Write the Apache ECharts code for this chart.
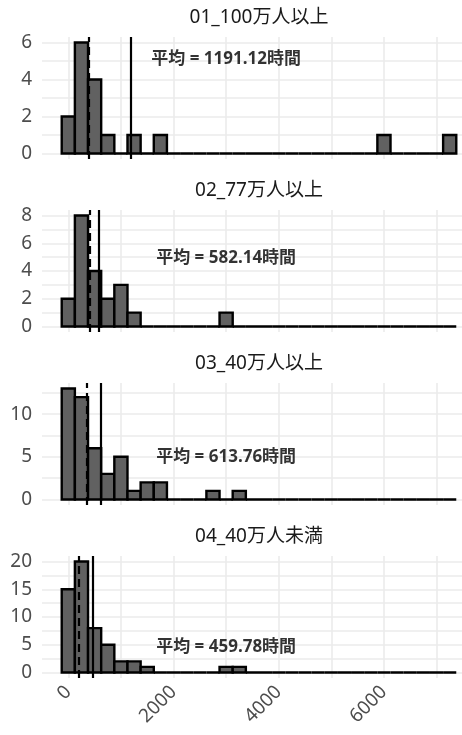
<!DOCTYPE html>
<html>
<head>
<meta charset="utf-8">
<title>histograms</title>
<script src="https://cdn.jsdelivr.net/npm/echarts@6/dist/echarts.min.js"></script>
<style>
  html, body { margin: 0; width: 100%; height: 100%; background: #fff; }
  #main { width: 462px; height: 735px; }
</style>
</head>
<body>
<div id="main"></div>
<script>
// panel names
var panels = ['01_100万人以上', '02_77万人以上', '03_40万人以上', '04_40万人未満'];

// histogram bins: 30 bins of width 250, first one centred on 0
var binStart = -125;
var binWidth = 250;

// counts per bin
var counts1 = [2,6,4,1,0,1,0,1,0,0, 0,0,0,0,0,0,0,0,0,0, 0,0,0,0,1,0,0,0,0,1];
var counts2 = [2,8,4,2,3,1,0,0,0,0, 0,0,1,0,0,0,0,0,0,0, 0,0,0,0,0,0,0,0,0,0];
var counts3 = [13,12,6,3,5,1,2,2,0,0, 0,1,0,1,0,0,0,0,0,0, 0,0,0,0,0,0,0,0,0,0];
var counts4 = [15,20,8,5,2,2,1,0,0,0, 0,0,1,1,0,0,0,0,0,0, 0,0,0,0,0,0,0,0,0,0];
var allCounts = [counts1, counts2, counts3, counts4];

var means = [1191.12, 582.14, 613.76, 459.78];
var medians = [390, 403, 345, 204];

// y axis range and ticks per panel
var yMax = [6.3, 8.4, 13.65, 21];
var yMin = [-0.3, -0.4, -0.65, -1];
var yGrid = [[0,1,2,3,4,5,6], [0,1,2,3,4,5,6,7,8], [0,2.5,5,7.5,10,12.5], [0,2.5,5,7.5,10,12.5,15,17.5,20]];
var yLabels = [[0,2,4,6], [0,2,4,6,8], [0,5,10], [0,5,10,15,20]];

var xGrid = [0,1000,2000,3000,4000,5000,6000,7000];
var xLabels = [0,2000,4000,6000];

// where the mean label sits
var labelX = 3000;
var labelY = [5.1, 4.9, 4.9, 4.6];

var panelTop = [37, 210, 383, 556];
var panelH = 122;
var FONT = '"Noto Sans", "Noto Sans CJK JP"';

var chart = echarts.init(document.getElementById('main'));

var grids = [], xAxes = [], yAxes = [], titles = [], series = [];

panels.forEach(function (name, i) {
    // the panel runs past the right edge of the picture, as in the original
    grids.push({ left: 42, width: 434, top: panelTop[i], height: panelH, outerBoundsMode: 'none' });

    titles.push({
        text: name,
        left: 259,
        textAlign: 'center',
        top: panelTop[i] - 29,
        padding: 0,
        textStyle: { fontFamily: FONT, fontSize: 19, fontWeight: 'normal', color: '#1a1a1a' }
    });

    xAxes.push({
        type: 'value',
        gridIndex: i,
        min: -500,
        max: 7750,
        axisLine: { show: false },
        axisTick: { show: false, customValues: xGrid },
        splitLine: { show: true, lineStyle: { color: '#ebebeb', width: 1.6 } },
        axisLabel: {
            show: i === 3,
            customValues: xLabels,
            formatter: function (v) { return String(v); },
            rotate: 45,
            margin: 11,
            fontFamily: FONT,
            fontSize: 19,
            color: '#4d4d4d'
        }
    });

    yAxes.push({
        type: 'value',
        gridIndex: i,
        min: yMin[i],
        max: yMax[i],
        axisLine: { show: false },
        axisTick: { show: false, customValues: yGrid[i] },
        splitLine: { show: true, lineStyle: { color: '#ebebeb', width: 1.6 } },
        axisLabel: {
            customValues: yLabels[i],
            margin: 10,
            fontFamily: FONT,
            fontSize: 19,
            color: '#4d4d4d'
        }
    });

    var data = allCounts[i].map(function (c, k) {
        return [binStart + k * binWidth, binStart + (k + 1) * binWidth, c];
    });

    series.push({
        type: 'custom',
        xAxisIndex: i,
        yAxisIndex: i,
        data: data,
        encode: { x: [0, 1], y: 2 },
        renderItem: function (params, api) {
            var a = api.coord([api.value(0), api.value(2)]);
            var b = api.coord([api.value(1), 0]);
            return {
                type: 'rect',
                shape: { x: a[0], y: a[1], width: b[0] - a[0], height: b[1] - a[1] },
                style: { fill: '#616161', stroke: '#000', lineWidth: 2.4 }
            };
        },
        markLine: {
            silent: true,
            symbol: 'none',
            label: { show: false },
            animation: false,
            data: [
                { xAxis: means[i], lineStyle: { color: '#000', width: 2.2, type: 'solid' } },
                { xAxis: medians[i], lineStyle: { color: '#000', width: 2.2, type: [8, 5] } }
            ]
        },
        z: 2
    });

    series.push({
        type: 'scatter',
        xAxisIndex: i,
        yAxisIndex: i,
        symbolSize: 0,
        data: [[labelX, labelY[i]]],
        label: {
            show: true,
            position: 'inside',
            formatter: '平均 = ' + means[i].toFixed(2) + '時間',
            fontFamily: FONT,
            fontSize: 17,
            fontWeight: 'bold',
            color: '#000'
        },
        z: 5
    });
});

chart.setOption({
    animation: false,
    title: titles,
    grid: grids,
    xAxis: xAxes,
    yAxis: yAxes,
    series: series
});
</script>
</body>
</html>
